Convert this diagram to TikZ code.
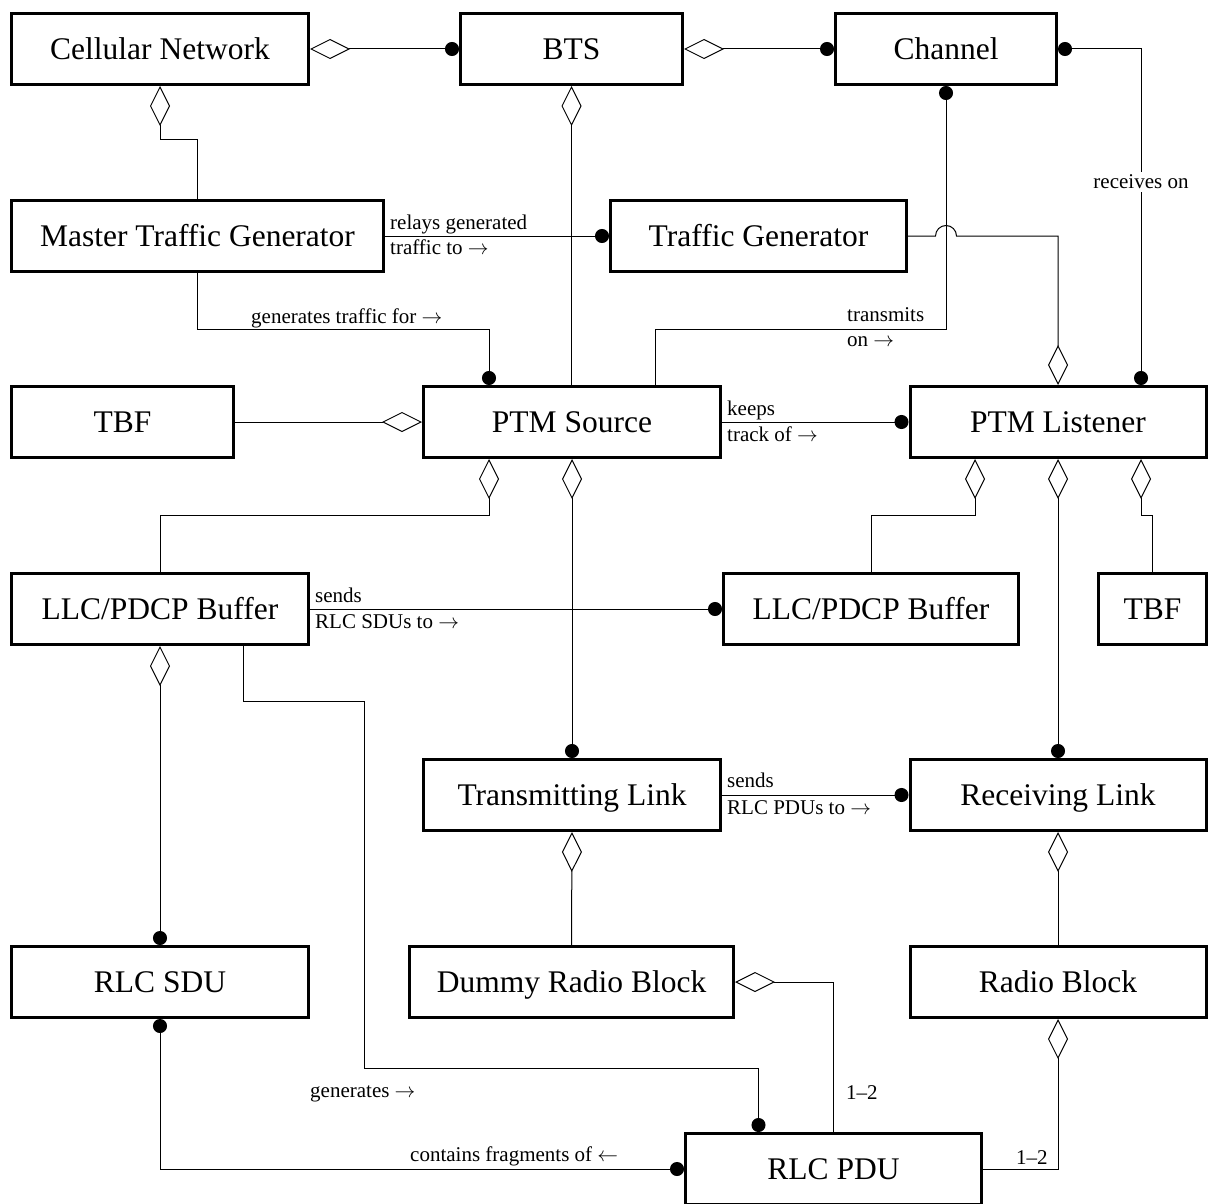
\documentclass[tikz,border=0pt]{standalone}
\usepackage{fontspec}
\setmainfont{Liberation Serif}
\usetikzlibrary{arrows.meta}

\tikzset{
  cls/.style={draw, line width=3pt, fill=white, minimum height=71pt,
    inner sep=0pt, text height=21pt, text depth=0pt,
    font=\fontsize{31.5}{36}\selectfont},
  lbl/.style={font=\fontsize{21}{24}\selectfont, inner sep=0pt},
  conn/.style={line width=1pt},
  dia/.tip={Diamond[open,length=40pt,width=20pt]},
  dot/.tip={Circle[length=14pt,width=14pt]},
  agg/.style={conn, dia-},
  aggdot/.style={conn, dia-dot},
  lnk/.style={conn, -dot},
  dotlnk/.style={conn, dot-},
  dotdot/.style={conn, dot-dot},
}

\begin{document}
\begin{tikzpicture}[x=1pt,y=-1pt]
\useasboundingbox (0,0) rectangle (1208,1204);

% classes
\node[cls, minimum width=297pt] (cn)   at (160,49)    {Cellular Network};
\node[cls, minimum width=222pt] (bts)  at (571.5,49)  {BTS};
\node[cls, minimum width=221pt] (chan) at (946,49)    {Channel};
\node[cls, minimum width=372pt] (mtg)  at (197.5,236) {Master Traffic Generator};
\node[cls, minimum width=296pt] (tg)   at (758.5,236) {Traffic Generator};
\node[cls, minimum width=222pt] (tbfL) at (122.5,422) {TBF};
\node[cls, minimum width=297pt] (src)  at (572,422)   {PTM Source};
\node[cls, minimum width=296pt] (lst)  at (1058,422)  {PTM Listener};
\node[cls, minimum width=297pt] (bufL) at (160,609)   {LLC/PDCP Buffer};
\node[cls, minimum width=295pt] (bufR) at (871,609)   {LLC/PDCP Buffer};
\node[cls, minimum width=108pt] (tbfR) at (1152.5,609) {TBF};
\node[cls, minimum width=297pt] (tx)   at (572,795)   {Transmitting Link};
\node[cls, minimum width=296pt] (rx)   at (1058,795)  {Receiving Link};
\node[cls, minimum width=297pt] (sdu)  at (160,982)   {RLC SDU};
\node[cls, minimum width=324pt] (drb)  at (571.5,982) {Dummy Radio Block};
\node[cls, minimum width=296pt] (rb)   at (1058,982)  {Radio Block};
\node[cls, minimum width=296pt] (pdu)  at (833.5,1169) {RLC PDU};

% routing levels
\coordinate (yA) at (0,140);
\coordinate (yB) at (0,329);
\coordinate (yC) at (0,515);
\coordinate (yD) at (0,701);
\coordinate (xE) at (364,0);
\coordinate (yF) at (0,1068);

% top row
\draw[aggdot] (cn.east) -- (bts.west);
\draw[aggdot] (bts.east) -- (chan.west);
\draw[agg] (cn.south) -- (cn.south |- yA) -| (mtg.north);
\draw[agg] (bts.south) -- (bts.south |- src.north);
\draw[dotdot] (chan.east) -| ([xshift=83pt]lst.north);
\node[lbl, fill=white, inner sep=3pt, anchor=base] (recv) at (1141,189) {receives on};

% channel to source
\draw[dotlnk] (chan.south) -- (chan.south |- yB) -| ([xshift=83pt]src.north);
\node[lbl, anchor=base west] (trA) at (847,321.5) {transmits};
\node[lbl, anchor=base west] (trB) at (847,346.5) {on $\rightarrow$};

% traffic generators
\draw[conn, -dia] (tg.east) -- ([xshift=-10.5pt]chan.south |- tg.east)
  arc[start angle=180, end angle=0, radius=10.5pt] -| (lst.north);
\draw[lnk] (mtg.east) -- (tg.west);
\node[lbl, anchor=base west] (rlA) at (390,229.5) {relays generated};
\node[lbl, anchor=base west] (rlB) at (390,254) {traffic to $\rightarrow$};
\draw[lnk] (mtg.south) -- (mtg.south |- yB) -| ([xshift=-83pt]src.north);
\node[lbl, anchor=base west] (gtf) at (251,323) {generates traffic for $\rightarrow$};

% source / listener row
\draw[conn, -dia] (tbfL.east) -- (src.west);
\draw[lnk] (src.east) -- (lst.west);
\node[lbl, anchor=base west] (kpA) at (727,415) {keeps};
\node[lbl, anchor=base west] (kpB) at (727,441) {track of $\rightarrow$};

% buffers
\draw[agg] ([xshift=-83pt]src.south) -- ([xshift=-83pt]src.south |- yC) -| (bufL.north);
\draw[aggdot] (src.south) -- (tx.north);
\draw[agg] ([xshift=-83pt]lst.south) -- ([xshift=-83pt]lst.south |- yC) -| (bufR.north);
\draw[aggdot] (lst.south) -- (rx.north);
\draw[agg] ([xshift=83pt]lst.south) -- ([xshift=83pt]lst.south |- yC) -| (tbfR.north);
\draw[lnk] (bufL.east) -- (bufR.west);
\node[lbl, anchor=base west] (sdA) at (315,602.5) {sends};
\node[lbl, anchor=base west] (sdB) at (315,628) {RLC SDUs to $\rightarrow$};

% links
\draw[lnk] (tx.east) -- (rx.west);
\node[lbl, anchor=base west] (spA) at (727,787.5) {sends};
\node[lbl, anchor=base west] (spB) at (727,814) {RLC PDUs to $\rightarrow$};
\draw[agg] (tx.south) -- (drb.north);
\draw[agg] (rx.south) -- (rb.north);

% units
\draw[aggdot] (bufL.south) -- (sdu.north);
\draw[lnk] ([xshift=83pt]bufL.south) -- ([xshift=83pt]bufL.south |- yD)
  -| (xE |- yF) -| ([xshift=-75pt]pdu.north);
\node[lbl, anchor=base west] (gen) at (310,1097) {generates $\rightarrow$};
\draw[agg] (drb.east) -| (pdu.north);
\node[lbl, anchor=base west] (mA) at (846,1099) {1--2};
\draw[agg] (rb.south) |- (pdu.east);
\node[lbl, anchor=base west] (mB) at (1016,1164) {1--2};
\draw[dotdot] (sdu.south) |- (pdu.west);
\node[lbl, anchor=base west] (frag) at (410,1161) {contains fragments of $\leftarrow$};
\end{tikzpicture}
\end{document}
